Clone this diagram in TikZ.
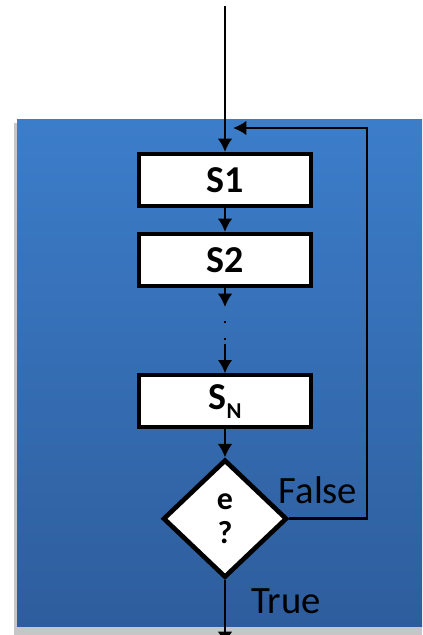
\documentclass[tikz,border=0pt]{standalone}
\usepackage{fontspec}
\setmainfont{Carlito}
\usetikzlibrary{arrows.meta,positioning,shapes.geometric}
\definecolor{paneltop}{RGB}{60,125,202}
\definecolor{panelbot}{RGB}{46,93,156}

\begin{document}
\begin{tikzpicture}[x=0.75pt,y=-0.75pt,stepbox/.style={draw,line width=3pt,fill=white,minimum width=129pt,minimum height=39pt,inner sep=0pt,font=\fontsize{28.5}{30}\selectfont\bfseries},test/.style={diamond,draw,line width=3.5pt,fill=white,minimum width=93pt,minimum height=88.5pt,inner sep=0pt,align=center,font=\fontsize{24}{25}\selectfont\bfseries},arr/.style={-{Latex[length=10pt,width=11pt]},line width=1.8pt},lbl/.style={font=\fontsize{29}{30}\selectfont}]
\useasboundingbox (0,0) rectangle (422,635);
\clip (0,0) rectangle (422,635);
% panel behind the loop
\fill[gray!45] (14,123) rectangle (422,635);
\shade[top color=paneltop,bottom color=panelbot] (17,119) rectangle (422,626);
\node[stepbox] (s1) at (225,180) {S1};
\node[stepbox,below=18pt of s1] (s2) {S2};
\node[stepbox,below=64pt of s2] (sn) {S\raisebox{-6.75pt}{\fontsize{17}{17}\selectfont N}};
\node[test,below=21pt of sn] (test) {e\\?};
\node[lbl] (false) at (318,490) {False};
\node[lbl] (true) at (286,601) {True};
\coordinate (start) at (225,6);
\coordinate (gap1) at (225,307);
\coordinate (gap2) at (225,344);
\coordinate (back) at (367,128);
\coordinate (entry) at (233,128);
\coordinate (exit) at (225,645);
\draw[arr] (start)--(s1);
\draw[arr] (s1)--(s2);
\draw[arr] (s2)--(gap1);
\draw[line width=1.8pt,dash pattern=on 1.5pt off 11pt] (225,321)--(gap2);
\draw[arr] (gap2)--(sn);
\draw[arr] (sn)--(test);
\draw[arr] (test.east) -| (back) -- (entry);
\draw[arr] (test)--(exit);
\end{tikzpicture}
\end{document}
